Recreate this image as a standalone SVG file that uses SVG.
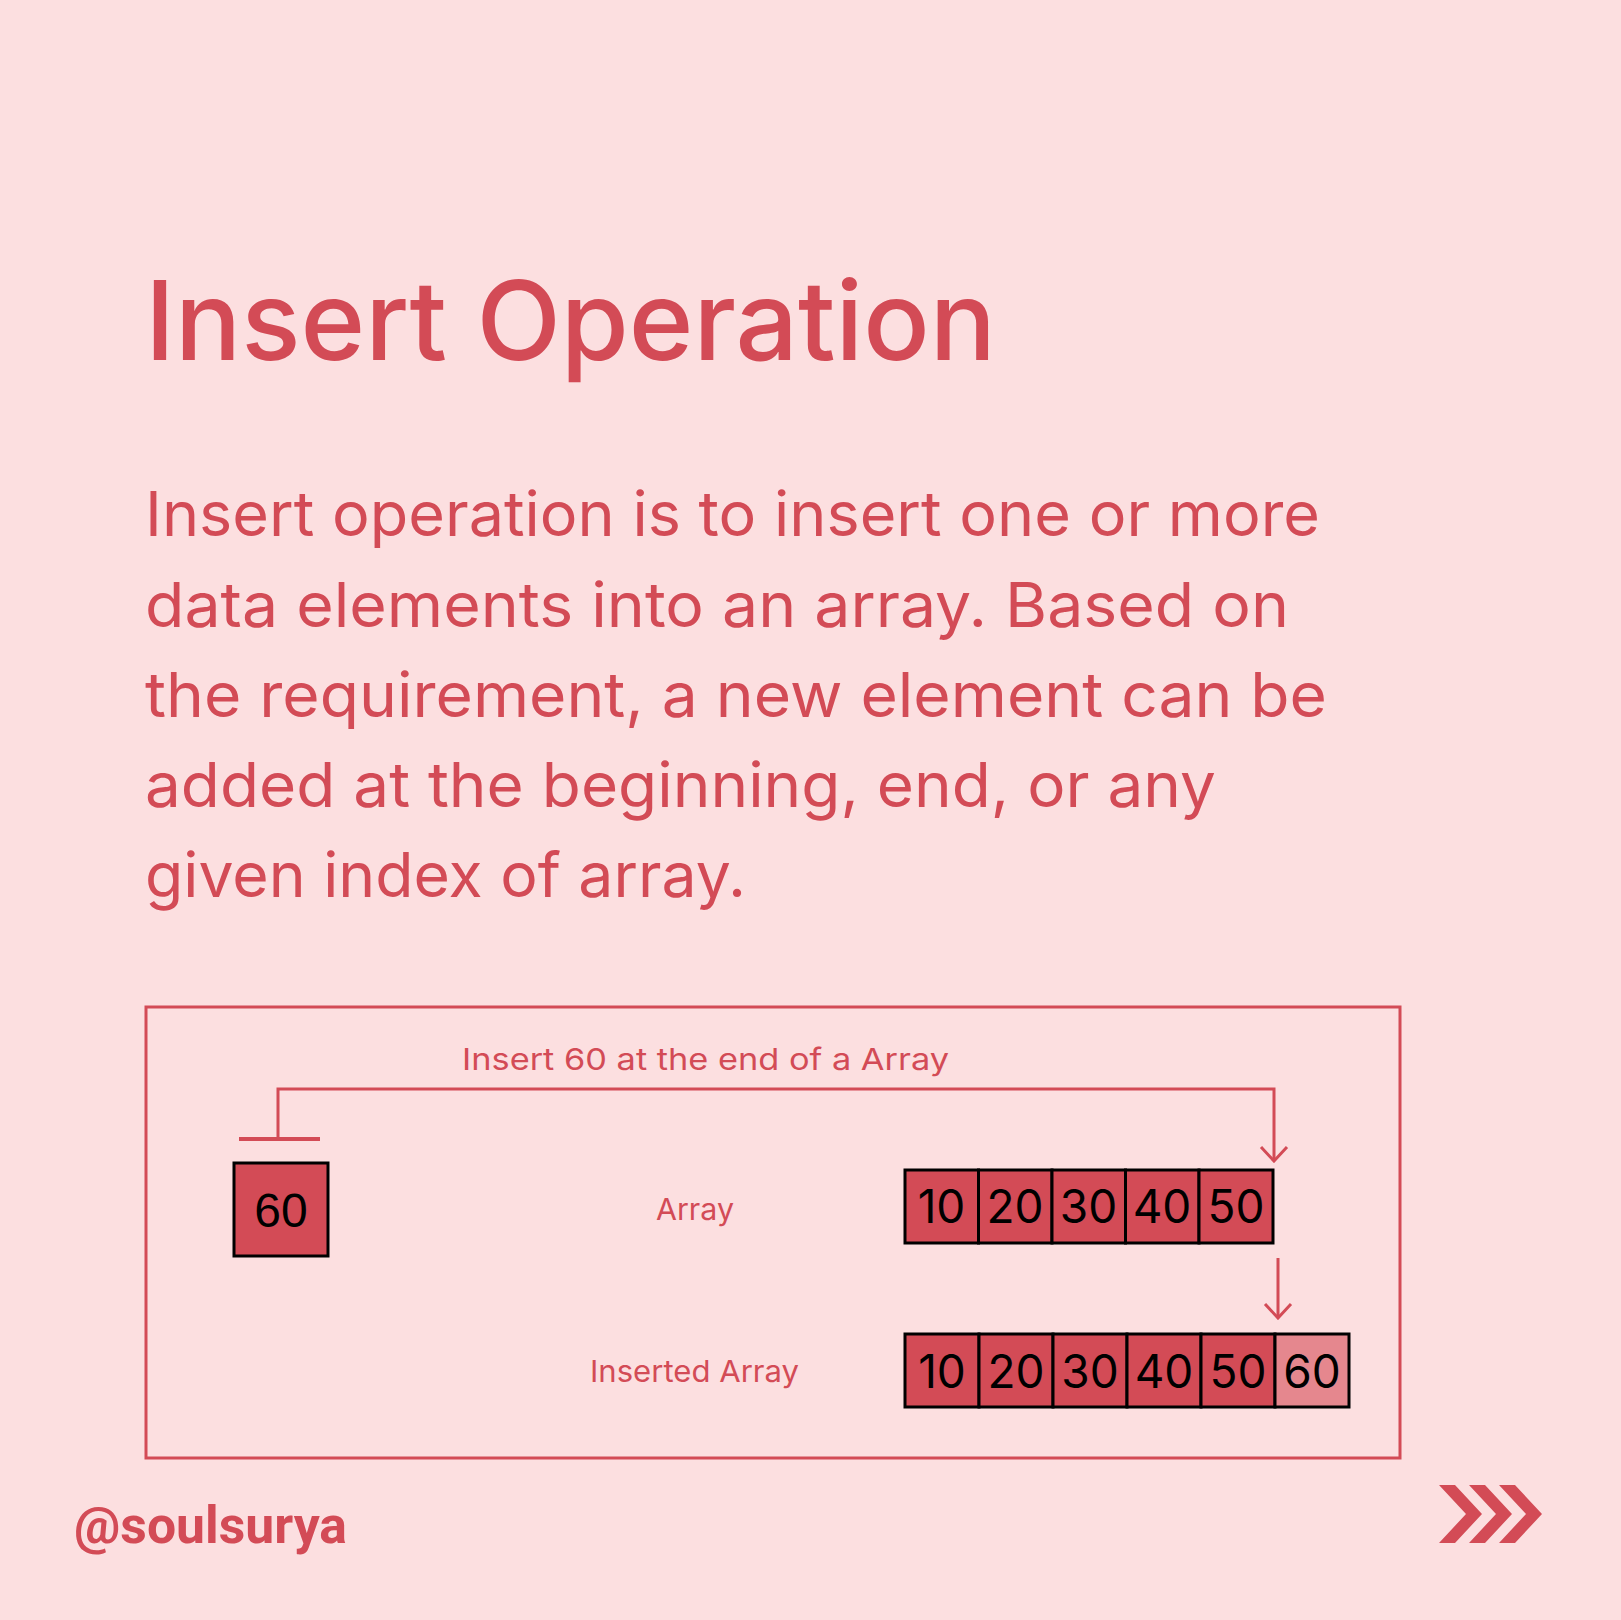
<svg xmlns="http://www.w3.org/2000/svg" width="1621" height="1620" viewBox="0 0 1621 1620">
  <style>
    .title { font-family: Inter, "Open Sans", sans-serif; font-size: 110px; font-weight: 500; fill: #d34b56; }
    .body { font-family: Inter, "Open Sans", sans-serif; font-size: 62px; font-weight: 400; fill: #d34b56; }
    .label { font-family: Inter, "Open Sans", sans-serif; font-size: 30px; font-weight: 400; fill: #d34b56; }
    .cell { fill: #d34b56; stroke: #000; stroke-width: 3; }
    .cell-new { fill: #e5878e; stroke: #000; stroke-width: 3; }
    .num { font-family: Inter, "Open Sans", sans-serif; font-size: 46px; font-weight: 400; fill: #000; text-anchor: middle; }
    .num-arial { font-family: "Liberation Sans", Arial, sans-serif; font-size: 48px; fill: #000; text-anchor: middle; }
    .wire { fill: none; stroke: #d34b56; stroke-width: 3; }
    .handle { font-family: Roboto, "Liberation Sans", sans-serif; font-size: 52px; font-weight: 700; fill: #d34b56; }
  </style>
  <defs>
    <!-- open V head; drawn along +x so orient="auto" turns it with the line -->
    <marker id="open-arrow" viewBox="-16 -16 18 32" markerWidth="18" markerHeight="32" refX="0" refY="0" orient="auto" markerUnits="userSpaceOnUse">
      <path d="M -14 -13 L 0 0 L -14 13" fill="none" stroke="#d34b56" stroke-width="3"/>
    </marker>
  </defs>

  <rect width="1621" height="1620" fill="#fcdfe0"/>

  <text class="title" x="145" y="360" textLength="851" lengthAdjust="spacingAndGlyphs">Insert Operation</text>

  <g id="description">
    <text class="body" x="145" y="536" textLength="1175" lengthAdjust="spacingAndGlyphs">Insert operation is to insert one or more</text>
    <text class="body" x="145" y="627" textLength="1144" lengthAdjust="spacingAndGlyphs">data elements into an array. Based on</text>
    <text class="body" x="145" y="717" textLength="1182" lengthAdjust="spacingAndGlyphs">the requirement, a new element can be</text>
    <text class="body" x="145" y="807" textLength="1071" lengthAdjust="spacingAndGlyphs">added at the beginning, end, or any</text>
    <text class="body" x="145" y="897" textLength="601" lengthAdjust="spacingAndGlyphs">given index of array.</text>
  </g>

  <g id="frame">
    <rect x="146" y="1007" width="1254" height="451" fill="none" stroke="#d34b56" stroke-width="3"/>
  </g>

  <g id="labels">
    <text class="label" x="462" y="1070" textLength="487" lengthAdjust="spacingAndGlyphs">Insert 60 at the end of a Array</text>
    <text class="label" x="656" y="1220" textLength="78" lengthAdjust="spacingAndGlyphs">Array</text>
    <text class="label" x="590" y="1382" textLength="209" lengthAdjust="spacingAndGlyphs">Inserted Array</text>
  </g>

  <g id="connectors">
    <!-- T-handle on the new element, routed over to the end of the array -->
    <line x1="239" y1="1139" x2="320" y2="1139" stroke="#d34b56" stroke-width="4"/>
    <path class="wire" d="M 278 1139 V 1089 H 1274 V 1161" marker-end="url(#open-arrow)"/>
    <!-- original array to resulting array -->
    <path class="wire" d="M 1278 1258 V 1318" marker-end="url(#open-arrow)"/>
  </g>

  <g id="new-element">
    <rect class="cell" x="234" y="1163" width="94" height="93"/>
    <text class="num-arial" x="281" y="1227">60</text>
  </g>

  <g id="array">
    <rect class="cell" x="905" y="1170" width="73.5" height="73"/>
    <rect class="cell" x="978.5" y="1170" width="73.5" height="73"/>
    <rect class="cell" x="1052" y="1170" width="73.5" height="73"/>
    <rect class="cell" x="1125.5" y="1170" width="73.5" height="73"/>
    <rect class="cell" x="1199" y="1170" width="74" height="73"/>
    <text class="num" x="941.5" y="1223">10</text>
    <text class="num" x="1015" y="1223">20</text>
    <text class="num" x="1088.5" y="1223">30</text>
    <text class="num" x="1162" y="1223">40</text>
    <text class="num" x="1236" y="1223">50</text>
  </g>

  <g id="inserted-array">
    <rect class="cell" x="905" y="1334" width="74" height="73"/>
    <rect class="cell" x="979" y="1334" width="74" height="73"/>
    <rect class="cell" x="1053" y="1334" width="74" height="73"/>
    <rect class="cell" x="1127" y="1334" width="74" height="73"/>
    <rect class="cell" x="1201" y="1334" width="74" height="73"/>
    <rect class="cell-new" x="1275" y="1334" width="74" height="73"/>
    <text class="num" x="942" y="1388">10</text>
    <text class="num" x="1016" y="1388">20</text>
    <text class="num" x="1090" y="1388">30</text>
    <text class="num" x="1164" y="1388">40</text>
    <text class="num" x="1238" y="1388">50</text>
    <text class="num" x="1312" y="1388">60</text>
  </g>

  <text class="handle" x="74" y="1543" textLength="273" lengthAdjust="spacingAndGlyphs">@soulsurya</text>

  <g id="next" fill="#d34b56">
    <polygon points="1439,1485 1455,1485 1482,1514 1455,1543 1439,1543 1466,1514"/>
    <polygon points="1469,1485 1485,1485 1512,1514 1485,1543 1469,1543 1496,1514"/>
    <polygon points="1499,1485 1515,1485 1542,1514 1515,1543 1499,1543 1526,1514"/>
  </g>
</svg>
